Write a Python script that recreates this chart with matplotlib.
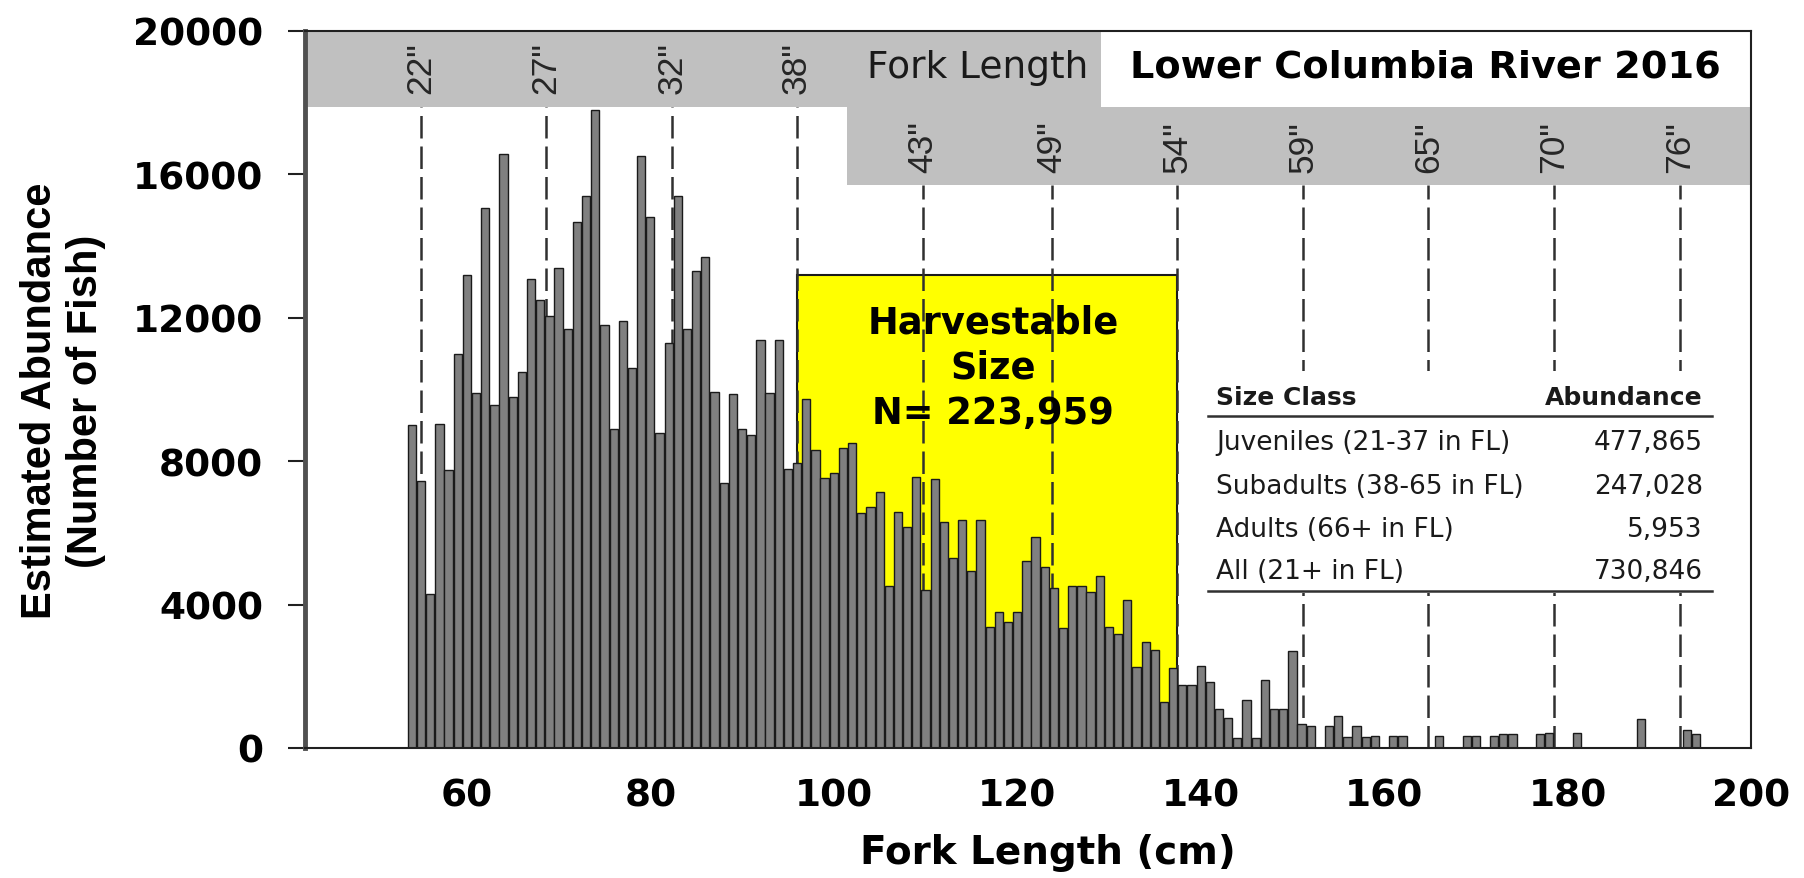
import matplotlib
matplotlib.use("Agg")
import matplotlib.pyplot as plt
from matplotlib.patches import Rectangle
from matplotlib.lines import Line2D

# ---------------- data ----------------
length_cm = list(range(54, 195))
abundance_k = [
    9.02, 7.44, 4.29, 9.05, 7.75, 11.0, 13.2, 9.9, 15.06, 9.57,      # 54-63
    16.56, 9.8, 10.5, 13.07, 12.5, 12.05, 13.4, 11.7, 14.66, 15.4,   # 64-73
    17.8, 11.8, 8.9, 11.9, 10.6, 16.5, 14.8, 8.8, 11.3, 15.4,        # 74-83
    11.7, 13.3, 13.7, 9.94, 7.38, 9.88, 8.9, 8.72, 11.37, 9.9,       # 84-93
    11.37, 7.77, 7.95, 9.73, 8.32, 7.54, 7.68, 8.38, 8.51, 6.55,     # 94-103
    6.73, 7.13, 4.51, 6.59, 6.16, 7.56, 4.41, 7.5, 6.3, 5.3,         # 104-113
    6.37, 4.95, 6.37, 3.37, 3.8, 3.52, 3.78, 5.23, 5.88, 5.04,       # 114-123
    4.45, 3.34, 4.53, 4.53, 4.34, 4.79, 3.37, 3.18, 4.13, 2.25,      # 124-133
    2.97, 2.72, 1.29, 2.22, 1.76, 1.76, 2.3, 1.83, 1.09, 0.83,       # 134-143
    0.27, 1.35, 0.27, 1.9, 1.09, 1.09, 2.71, 0.67, 0.62, 0.0,        # 144-153
    0.62, 0.9, 0.3, 0.62, 0.3, 0.33, 0.0, 0.34, 0.34, 0.0,           # 154-163
    0.0, 0.0, 0.34, 0.0, 0.0, 0.34, 0.34, 0.0, 0.34, 0.38,           # 164-173
    0.4, 0.0, 0.0, 0.38, 0.42, 0.0, 0.0, 0.42, 0.0, 0.0,             # 174-183
    0.0, 0.0, 0.0, 0.0, 0.81, 0.0, 0.0, 0.0, 0.0, 0.5,               # 184-193
    0.38,                                                            # 194
]
abundance = [v * 1000 for v in abundance_k]

inch_labels = ['22"', '27"', '32"', '38"', '43"', '49"', '54"', '59"', '65"', '70"', '76"']
inch_line_cm = [54.96, 68.59, 82.36, 95.95, 109.75, 123.78, 137.47, 151.17, 164.83, 178.53, 192.24]

harvest_min_cm = 95.95
harvest_max_cm = 137.47
harvest_height = 13200
harvest_text = "Harvestable\nSize\nN= 223,959"

table_header = ["Size Class", "Abundance"]
table_classes = ["Juveniles (21-37 in FL)", "Subadults (38-65 in FL)", "Adults (66+ in FL)", "All (21+ in FL)"]
table_values = ["477,865", "247,028", "5,953", "730,846"]

title = "Lower Columbia River 2016"
band_label = "Fork Length"
x_label = "Fork Length (cm)"
y_label = "Estimated Abundance\n(Number of Fish)"
y_ticks = [0, 4000, 8000, 12000, 16000, 20000]
x_ticks = [60, 80, 100, 120, 140, 160, 180, 200]

# ---------------- figure ----------------
W, H = 1804, 879
fig = plt.figure(figsize=(W / 100, H / 100), dpi=100)
ax_l, ax_r, ax_t, ax_b = 305, 1751, 32, 749
ax = fig.add_axes([ax_l / W, 1 - ax_b / H, (ax_r - ax_l) / W, (ax_b - ax_t) / H])
ax.set_xlim(42.35, 200)
ax.set_ylim(0, 20000)

XMIN, XMAX = ax.get_xlim()
upper_band_bottom = 17880
lower_band_bottom = 15700
upper_band_right = 129.1
lower_band_left = 101.4

# gray bands at top
ax.add_patch(Rectangle((XMIN, upper_band_bottom), upper_band_right - XMIN, 20000 - upper_band_bottom,
                       facecolor="#c0c0c0", edgecolor="none", zorder=1))
ax.add_patch(Rectangle((lower_band_left, lower_band_bottom), XMAX - lower_band_left,
                       upper_band_bottom - lower_band_bottom,
                       facecolor="#c0c0c0", edgecolor="none", zorder=1))

# harvestable box
ax.add_patch(Rectangle((harvest_min_cm, 0), harvest_max_cm - harvest_min_cm, harvest_height,
                       facecolor="#ffff00", edgecolor="#1a1a1a", linewidth=1.5, zorder=1.5))

# dashed inch lines
for xc, lab in zip(inch_line_cm, inch_labels):
    top = upper_band_bottom if xc < lower_band_left else lower_band_bottom
    ax.add_line(Line2D([xc, xc], [0, top], color="#303030", linewidth=1.8,
                       dashes=(9, 3.2), zorder=2))
    ly = 19000 if xc < lower_band_left else 16800
    ax.text(xc, ly, lab, rotation=90, ha="center", va="center", fontsize=25.5,
            family="Liberation Sans", color="#262626", zorder=6)

# bars
ax.bar(length_cm, abundance, width=0.9, color="#808080", edgecolor="#1a1a1a",
       linewidth=1.0, zorder=3)

# band texts
ax.text(115.7, 19000, band_label, ha="center", va="center", fontsize=27,
        family="DejaVu Sans", color="#1a1a1a", zorder=6)
ax.text(164.45, 19000, title, ha="center", va="center", fontsize=27.5,
        family="DejaVu Sans", fontweight="bold", color="black", zorder=6)

# harvest text
ax.text(117.4, 10630, harvest_text, ha="center", va="center", fontsize=26.5,
        family="DejaVu Sans", fontweight="bold", linespacing=1.28, color="black", zorder=6)

# table
tab_left, tab_right = 140.8, 195.75
txt_left, txt_right = 141.7, 194.75
ax.add_patch(Rectangle((tab_left - 0.5, 4330), tab_right - tab_left + 1.0, 10520 - 4330,
                       facecolor="white", edgecolor="none", zorder=4))
header_y = 9791
row_y = [8536, 7308, 6109, 4937]
ax.text(txt_left, header_y, table_header[0], ha="left", va="center", fontsize=18,
        family="DejaVu Sans", fontweight="bold", color="#1a1a1a", zorder=5)
ax.text(txt_right, header_y, table_header[1], ha="right", va="center", fontsize=18,
        family="DejaVu Sans", fontweight="bold", color="#1a1a1a", zorder=5)
for cls, val, yy in zip(table_classes, table_values, row_y):
    ax.text(txt_left, yy, cls, ha="left", va="center", fontsize=19,
            family="DejaVu Sans", color="#1a1a1a", zorder=5)
    ax.text(txt_right, yy, val, ha="right", va="center", fontsize=19,
            family="DejaVu Sans", color="#1a1a1a", zorder=5)
for ly in (9261, 4379):
    ax.add_line(Line2D([tab_left, tab_right], [ly, ly], color="#303030", linewidth=1.8, zorder=5))

# axes styling
ax.set_yticks(y_ticks)
ax.set_yticklabels([str(t) for t in y_ticks])
ax.set_xticks(x_ticks)
ax.set_xticklabels([str(t) for t in x_ticks])
for lab in ax.get_yticklabels() + ax.get_xticklabels():
    lab.set_fontfamily("DejaVu Sans")
    lab.set_fontweight("bold")
    lab.set_fontsize(27)
ax.tick_params(axis="y", direction="out", length=12, width=1.5, pad=18, color="#202020")
ax.tick_params(axis="x", length=0, pad=21)

ax.spines["left"].set_linewidth(3.5)
ax.spines["left"].set_color("#505050")
for s in ("right", "top", "bottom"):
    ax.spines[s].set_linewidth(1.5)
    ax.spines[s].set_color("#202020")
for s in ax.spines.values():
    s.set_zorder(7)

ax.set_xlabel(x_label, fontsize=28, fontweight="bold", family="DejaVu Sans")
ax.xaxis.set_label_coords(0.514, -0.118)

fig.text(63 / W, 1 - 401 / H, y_label, rotation=90, ha="center", va="center",
         fontsize=30, fontweight="bold", family="Liberation Sans", linespacing=1.2)

fig.savefig("out.png", dpi=100)
